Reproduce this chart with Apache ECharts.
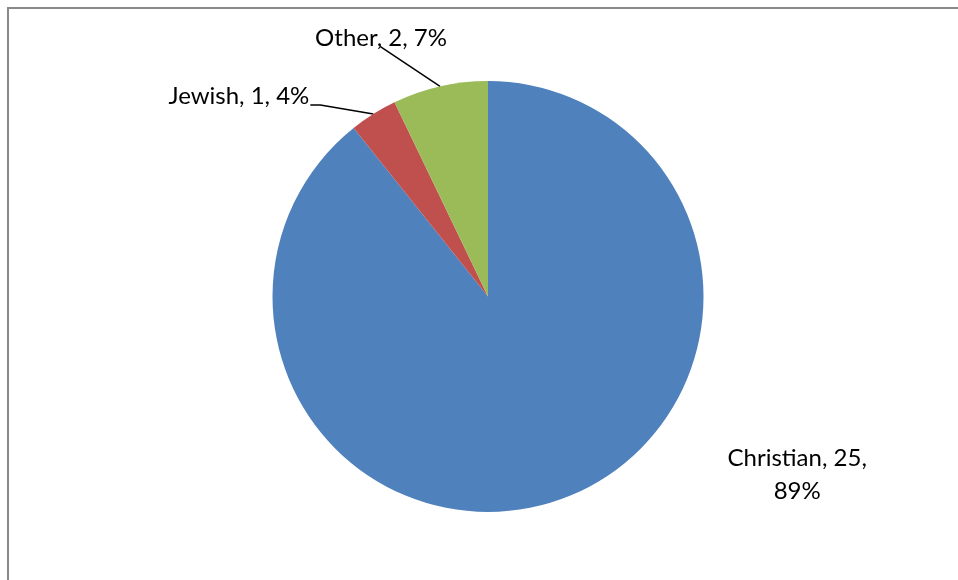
<!DOCTYPE html>
<html>
<head>
<meta charset="utf-8">
<script src="https://cdn.jsdelivr.net/npm/echarts@6/dist/echarts.min.js"></script>
<style>
html,body{margin:0;padding:0;background:#fff;}
#chart{width:958px;height:580px;}
</style>
</head>
<body>
<div id="chart"></div>
<script>
const categories = ['Christian', 'Jewish', 'Other'];
const counts = [25, 1, 2];
const colors = ['#4F81BD', '#C0504D', '#9BBB59'];

const CENTER = [488, 296.5];
const RADIUS = 215.5;
const FONT = 'Lato';
const FONT_SIZE = 24;

const total = counts.reduce((a, b) => a + b, 0);
// mid-angle anchors on the pie edge (clockwise from 12 o'clock)
function anchor(i) {
  let before = 0;
  for (let k = 0; k < i; k++) before += counts[k];
  const mid = (before + counts[i] / 2) / total * Math.PI * 2;
  return [CENTER[0] + RADIUS * Math.sin(mid), CENTER[1] - RADIUS * Math.cos(mid)];
}

// label placement relative to each slice's edge anchor
const labelPlacement = [
  { dx: 238, dy: -25, align: 'center', line: null },
  { dx: -64, dy: -18, align: 'right', line: [[-53, -9], [-63, -9]] },
  { dx: -59, dy: -48, align: 'center', line: [[-60, -40]] }
];

const chart = echarts.init(document.getElementById('chart'), null, { renderer: 'canvas' });

chart.setOption({
  backgroundColor: '#fff',
  animation: false,
  graphic: [{
    type: 'polyline',
    shape: { points: [[8, 580], [8, 8], [958, 8]] },
    style: { stroke: '#898989', lineWidth: 2, fill: null }
  }],
  series: [{
    type: 'pie',
    center: CENTER,
    radius: RADIUS,
    startAngle: 90,
    clockwise: true,
    avoidLabelOverlap: false,
    data: categories.map((c, i) => ({
      name: c,
      value: counts[i],
      itemStyle: { color: colors[i] },
      labelLine: { show: i !== 0 }
    })),
    label: {
      show: true,
      position: 'outside',
      fontFamily: FONT,
      fontSize: FONT_SIZE,
      color: '#000',
      lineHeight: 33,
      align: 'center',
      formatter: function (p) {
        const pct = Math.round(p.percent) + '%';
        if (p.dataIndex === 0) return p.name + ', ' + p.value + ',\n' + pct;
        return p.name + ', ' + p.value + ', ' + pct;
      }
    },
    labelLine: {
      show: true,
      smooth: false,
      lineStyle: { color: '#000', width: 1.5 }
    },
    labelLayout: function (params) {
      const i = params.dataIndex;
      const a = anchor(i);
      const pl = labelPlacement[i];
      const out = {
        x: a[0] + pl.dx,
        y: a[1] + pl.dy,
        align: pl.align,
        verticalAlign: 'middle'
      };
      if (pl.line) {
        out.labelLinePoints = [a].concat(pl.line.map(p => [a[0] + p[0], a[1] + p[1]]));
      }
      return out;
    },
    emphasis: { disabled: true }
  }]
});
</script>
</body>
</html>
